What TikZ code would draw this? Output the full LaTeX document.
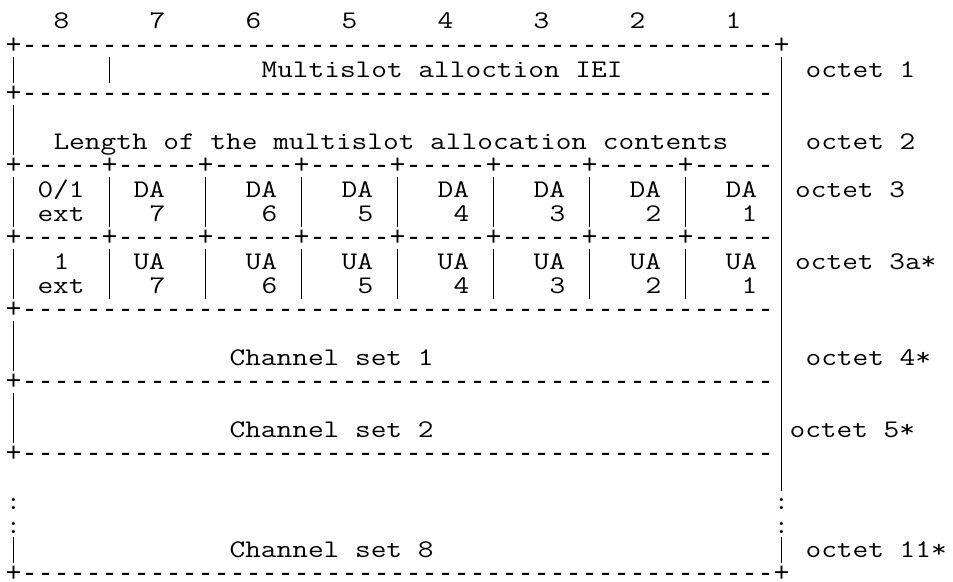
\documentclass[tikz,border=0pt]{standalone}
\usepackage{fontspec}
\setmonofont{Liberation Mono}
\newfontfamily\fieldfont{Latin Modern Mono}[FakeStretch=1.203]
\usepackage{tikz}
\newcommand\fivedash{-----}

\begin{document}
\begin{tikzpicture}[x=12pt,y=-18pt,
txt/.style={anchor=base west,inner sep=0pt,text height=12pt,text depth=3pt,font=\fieldfont\fontsize{19pt}{18pt}\selectfont},
dashrow/.style={txt,font=\ttfamily\fontsize{20pt}{18pt}\selectfont},
bar/.style={line width=.75pt,draw=black}]
\useasboundingbox (-0.33,-1.208) rectangle (59.23,23);
% bit numbers
\foreach \b [count=\i] in {8,...,1} \node[txt] (bit\b) at (6*\i-3,0) {\b};
% dashed rows
\node[dashrow] (rowa) at (0,1) {+\fivedash\fivedash\fivedash\fivedash\fivedash\fivedash\fivedash\fivedash\fivedash--+};
\node[dashrow] (rowb) at (0,3) {+\fivedash\fivedash\fivedash\fivedash\fivedash\fivedash\fivedash\fivedash\fivedash--};
\node[dashrow] (rowc) at (0,6) {+\fivedash+\fivedash+\fivedash+\fivedash+\fivedash+\fivedash+\fivedash+\fivedash};
\node[dashrow] (rowd) at (0,9) {+\fivedash+\fivedash+\fivedash+\fivedash+\fivedash+\fivedash+\fivedash+\fivedash};
\node[dashrow] (rowe) at (0,12) {+\fivedash\fivedash\fivedash\fivedash\fivedash\fivedash\fivedash\fivedash\fivedash--};
\node[dashrow] (rowf) at (0,15) {+\fivedash\fivedash\fivedash\fivedash\fivedash\fivedash\fivedash\fivedash\fivedash--};
\node[dashrow] (rowg) at (0,18) {+\fivedash\fivedash\fivedash\fivedash\fivedash\fivedash\fivedash\fivedash\fivedash--};
\node[dashrow,text depth=0pt] (rowh) at (0,23) {+\fivedash\fivedash\fivedash\fivedash\fivedash\fivedash\fivedash\fivedash\fivedash--+};
% fields
\node[txt] (iei) at (16,2) {Multislot alloction IEI};
\node[txt] (len) at (3,5) {Length of the multislot allocation contents};
\node[txt] (dext) at (2,7) {0/1};
\node[txt] (dextb) at (2,8) {ext};
\node[txt] (uext) at (3,10) {1};
\node[txt] (uextb) at (2,11) {ext};
\node[txt] (da7) at (8,7) {DA};
\node[txt] (dan7) at (9,8) {7};
\node[txt] (ua7) at (8,10) {UA};
\node[txt] (uan7) at (9,11) {7};
\foreach \i [evaluate=\i as \d using int(8-\i)] in {2,...,7}{
  \node[txt] (da\d) at (6*\i+3,7) {DA};
  \node[txt] (dan\d) at (6*\i+4,8) {\d};
  \node[txt] (ua\d) at (6*\i+3,10) {UA};
  \node[txt] (uan\d) at (6*\i+4,11) {\d};
}
\node[txt] (cs1) at (14,14) {Channel set 1};
\node[txt] (cs2) at (14,17) {Channel set 2};
\node[txt] (cs8) at (14,22) {Channel set 8};
\foreach \c in {0,48} \foreach \k in {20,21} \node[txt] (dots\c\k) at (\c,\k) {:};
% octet numbers
\node[txt] (oct1) at (50,2) {octet 1};
\node[txt] (oct2) at (50,5) {octet 2};
\node[txt] (oct3) at (49.35,7) {octet 3};
\node[txt] (oct3a) at (49.35,10) {octet 3a*};
\node[txt] (oct4) at (50,14) {octet 4*};
\node[txt] (oct5) at (49,17) {octet 5*};
\node[txt] (oct11) at (50,22) {octet 11*};
% vertical strokes
\foreach \ka/\kb in {2/2,4/5,7/8,10/11,13/14,16/17,22/22}
  \draw[bar] (0.5,\ka-.833) -- (0.5,\kb+.25);
\draw[bar] (48.5,1.167) -- (48.5,19.25);
\draw[bar] (48.5,21.167) -- (48.5,22.25);
\draw[bar] (6.5,1.167) -- (6.5,2.25);
\foreach \c in {6,12,...,42} \foreach \ka in {7,10}
  \draw[bar] (\c+.5,\ka-.833) -- (\c+.5,\ka+1.25);
\end{tikzpicture}
\end{document}
